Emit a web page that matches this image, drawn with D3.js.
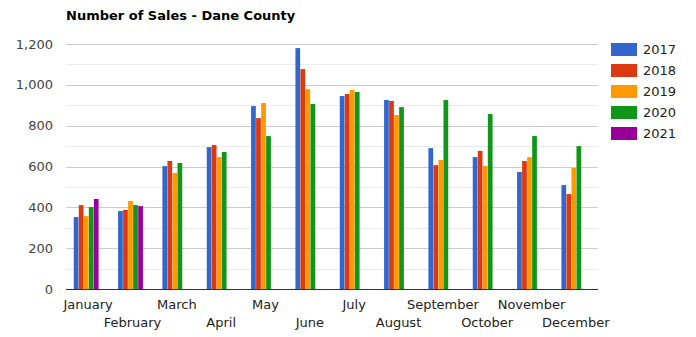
<!DOCTYPE html>
<html><head><meta charset="utf-8">
<script src="https://cdn.jsdelivr.net/npm/d3@7/dist/d3.min.js"></script>
<style>body{margin:0;background:#fff;}svg{display:block;}</style>
</head><body>
<svg id="chart" width="696" height="337"></svg>
<script>
const months = ["January","February","March","April","May","June","July","August","September","October","November","December"];
const years = ["2017","2018","2019","2020","2021"];
const colors = ["#3366cc","#dc3912","#ff9900","#109618","#990099"];
const s2017 = [352,382,602,695,896,1180,945,926,690,646,573,509];
const s2018 = [411,387,627,705,837,1077,955,921,607,676,627,465];
const s2019 = [357,431,568,646,911,979,975,852,632,602,646,593];
const s2020 = [401,411,617,671,749,906,965,891,926,857,749,700];
const s2021 = [441,406,null,null,null,null,null,null,null,null,null,null];
const yTicks = [0,200,400,600,800,1000,1200];
const series = [s2017,s2018,s2019,s2020,s2021];

const svg = d3.select("#chart");
const font = "DejaVu Sans, Verdana, sans-serif";
const L = 66, R = 598, T = 44, B = 289;

const x0 = d3.scaleBand().domain(months).range([L,R]).paddingInner(0.44).paddingOuter(0.22);
const x1 = d3.scaleBand().domain(years).range([-2,x0.bandwidth()-2]).paddingInner(0.06);
const y = d3.scaleLinear().domain([0,1200]).range([B,T]);

// gridlines
const minor = d3.range(100,1300,200);
svg.append("g").selectAll("line").data(minor).join("line")
  .attr("x1",L).attr("x2",R).attr("y1",d=>Math.round(y(d))+0.5).attr("y2",d=>Math.round(y(d))+0.5)
  .attr("stroke","#ebebeb");
svg.append("g").selectAll("line").data(yTicks.filter(d=>d>0)).join("line")
  .attr("x1",L).attr("x2",R).attr("y1",d=>Math.round(y(d))+0.5).attr("y2",d=>Math.round(y(d))+0.5)
  .attr("stroke","#cccccc");

// y labels
svg.append("g").selectAll("text").data(yTicks).join("text")
  .attr("x",53).attr("y",d=>y(d)).attr("dy","0.35em").attr("text-anchor","end")
  .attr("font-family",font).attr("font-size",13).attr("fill","#444")
  .text(d=>d3.format(",")(d));

// bars
const g = svg.append("g");
series.forEach((s,i)=>{
  g.append("g").attr("fill",colors[i]).selectAll("rect")
    .data(months.map((m,j)=>({m,v:s[j]})).filter(d=>d.v!=null))
    .join("rect")
    .attr("x",d=>x0(d.m)+x1(years[i]))
    .attr("width",x1.bandwidth())
    .attr("y",d=>y(d.v))
    .attr("height",d=>B-y(d.v));
});

// baseline
svg.append("line").attr("x1",L).attr("x2",R).attr("y1",B+0.5).attr("y2",B+0.5).attr("stroke","#333");

// x labels
svg.append("g").selectAll("text").data(months).join("text")
  .attr("x",d=>x0(d)+x0.bandwidth()/2).attr("y",(d,i)=>i%2===0?309:327)
  .attr("text-anchor","middle").attr("font-family",font).attr("font-size",13).attr("fill","#222")
  .text(d=>d);

// title
svg.append("text").attr("x",66).attr("y",20).attr("font-family",font).attr("font-size",13)
  .attr("font-weight","bold").attr("fill","#000").text("Number of Sales - Dane County");

// legend
const lg = svg.append("g").selectAll("g").data(years).join("g")
  .attr("transform",(d,i)=>`translate(611,${43+i*21})`);
lg.append("rect").attr("width",26).attr("height",13).attr("fill",(d,i)=>colors[i]);
lg.append("text").attr("x",32).attr("y",6.5).attr("dy","0.35em").attr("font-family",font)
  .attr("font-size",13).attr("fill","#222").text(d=>d);
</script>
</body></html>
